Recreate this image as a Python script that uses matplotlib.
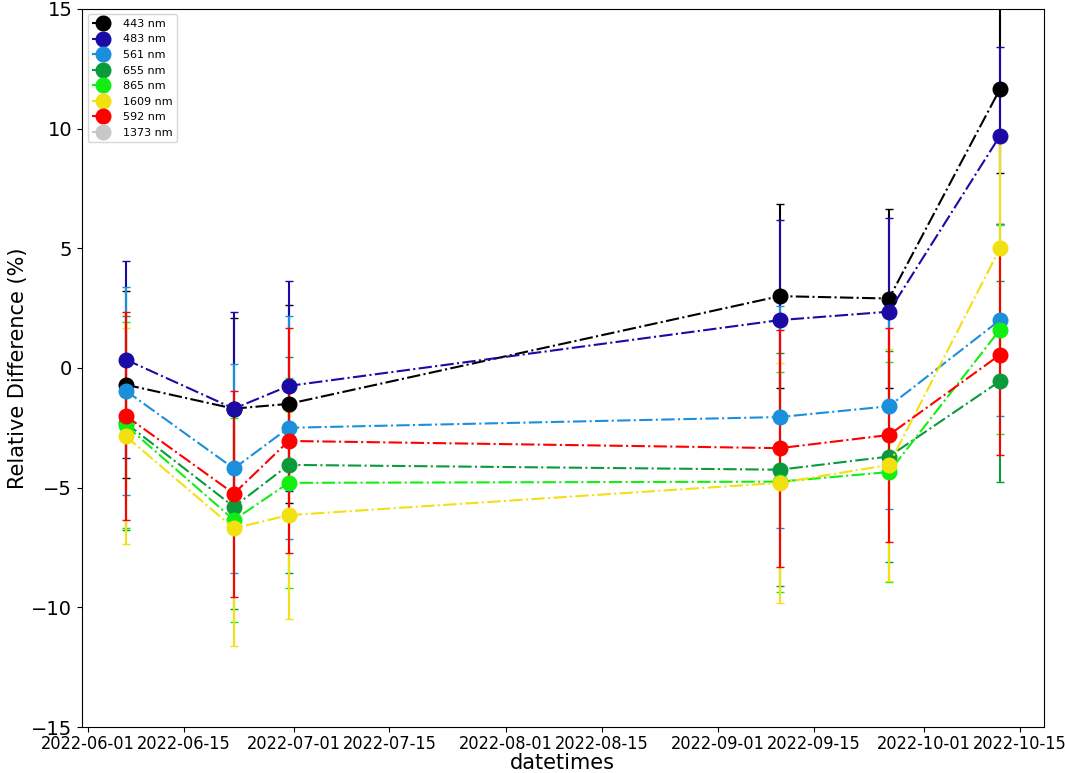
import numpy as np
import pandas as pd
import matplotlib
matplotlib.use('Agg')
import matplotlib.pyplot as plt
import matplotlib.dates as mdates

dates = pd.to_datetime(['2022-06-06 12:00', '2022-06-22 07:00', '2022-06-30 07:00',
                        '2022-09-10 00:00', '2022-09-25 22:00', '2022-10-12 03:00'])

bands = ['443 nm', '483 nm', '561 nm', '655 nm', '865 nm', '1609 nm', '592 nm', '1373 nm']
colors = ['#000000', '#1c0aa5', '#1a90dc', '#0a9a3c', '#12ee12', '#f2e010', '#ff0000', '#c8c8c8']

rel_diff = [
    [-0.7, -1.7, -1.5, 3.0, 2.9, 11.65],
    [0.35, -1.7, -0.75, 2.0, 2.35, 9.7],
    [-0.95, -4.2, -2.5, -2.05, -1.6, 2.0],
    [-2.3, -5.8, -4.05, -4.25, -3.7, -0.55],
    [-2.4, -6.35, -4.8, -4.75, -4.35, 1.6],
    [-2.85, -6.7, -6.15, -4.8, -4.05, 5.0],
    [-2.0, -5.25, -3.05, -3.35, -2.8, 0.55],
    [np.nan] * 6,
]

rel_err = [
    [3.9, 3.8, 4.15, 3.85, 3.75, 3.5],
    [4.1, 4.05, 4.4, 4.2, 3.9, 3.7],
    [4.35, 4.35, 4.65, 4.65, 4.3, 4.0],
    [4.45, 4.27, 4.5, 4.87, 4.4, 4.2],
    [4.3, 4.25, 4.4, 4.6, 4.6, 4.37],
    [4.5, 4.9, 4.33, 5.0, 4.85, 4.6],
    [4.35, 4.3, 4.7, 4.95, 4.46, 4.2],
    [np.nan] * 6,
]

fig = plt.figure(figsize=(10.65, 7.73), dpi=100)
ax = fig.add_axes([0.077, 0.0595, 0.903, 0.929])

for band, col, vals, errs in zip(bands, colors, rel_diff, rel_err):
    ax.errorbar(dates, vals, yerr=errs, fmt='o-.', color=col, markersize=10.5,
                linewidth=1.5, elinewidth=1.5, capsize=3, label=band)

ax.set_ylim(-15, 15)
ax.xaxis.set_major_locator(mdates.DayLocator(bymonthday=[1, 15]))
ax.xaxis.set_major_formatter(mdates.DateFormatter('%Y-%m-%d'))
ax.tick_params(axis='y', labelsize=14)
ax.tick_params(axis='x', pad=2)
for lbl in ax.get_xticklabels():
    lbl.set_fontsize(13)
    lbl.set_fontstretch('condensed')
ax.set_xlabel('datetimes', fontsize=15, labelpad=0)
ax.set_ylabel('Relative Difference (%)', fontsize=15, labelpad=2)
ax.legend(loc='upper left', fontsize=8)

fig.savefig('out.png', dpi=100)
